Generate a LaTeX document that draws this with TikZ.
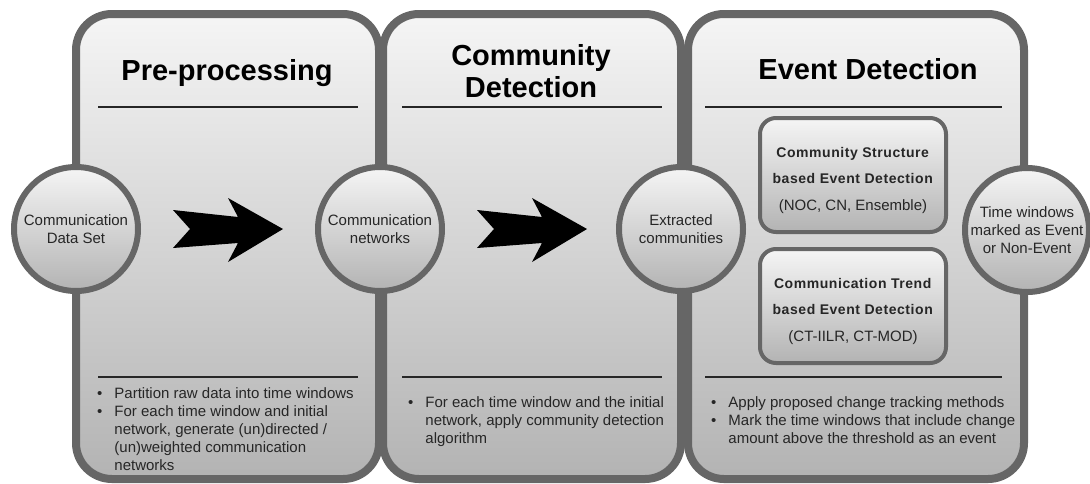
\documentclass[tikz,border=0pt]{standalone}
\usepackage{fontspec}
\setmainfont{Liberation Sans}
\usetikzlibrary{positioning}
\definecolor{edge}{HTML}{666666}
\definecolor{lite}{HTML}{F5F5F5}
\definecolor{dark}{HTML}{B3B3B3}

\begin{document}
\begin{tikzpicture}[x=1pt,y=-1pt,
    panel/.style={draw=edge,line width=8pt,rounded corners=36pt,top color=lite,bottom color=dark,inner sep=0pt},
    stage/.style={draw=edge,line width=6pt,circle,top color=lite,bottom color=dark,minimum size=124pt,inner sep=0pt,
      align=center,font=\fontsize{15}{18}\selectfont,text=black!85},
    method/.style={draw=edge,line width=4pt,rounded corners=16pt,top color=lite,bottom color=dark,
      minimum width=186pt,minimum height=114pt},
    methodtext/.style={align=center,inner sep=0pt,font=\fontsize{14}{26.5}\selectfont,text=black!85},
    title/.style={font=\fontsize{29}{32}\selectfont\bfseries,align=center,anchor=base},
    rule/.style={line width=2pt,black!85},
    bullets/.style={anchor=base west,inner sep=0pt,font=\fontsize{15}{18}\selectfont,text=black!85}]
  \useasboundingbox (0,0) rectangle (1090,483);
  % the three phases
  \foreach \name/\xl/\xr in {pre/76/379,cd/383/681,ed/688/1024}
    \node[panel,minimum width={\xr-\xl},minimum height=465pt] (\name) at ({(\xl+\xr)/2},246.5) {};
  \foreach \a/\b in {98/358,402/662,705/1002}
    \foreach \y in {107,377}
      \draw[rule] (\a,\y) -- (\b,\y);
  \node[title] (pretitle) at (227,80) {Pre-processing};
  \node[title] (cdtitle) at (531,97) {Community\\Detection};
  \node[title] (edtitle) at (868,79) {Event Detection};
  % big arrows
  \foreach \dx in {0,304}
    \fill[shift={(\dx,0)}] (173,210) -- (238,217) -- (228,198) -- (283,229) -- (228,262)
      -- (238,243) -- (173,248) -- (190,229) -- cycle;
  % data between phases
  \foreach \name/\pos/\txt in {{data/(76,229)/{Communication\\Data Set}},{net/(380,229)/{Communication\\networks}},
      {comm/(681,229)/{Extracted\\communities}},{event/(1027,230)/{Time windows\\marked as Event\\or Non-Event}}}
    \node[stage] (\name) at \pos {\txt};
  % detection methods
  \node[method] (cs) at (853,175) {};
  \node[methodtext] (cstext) at ([yshift=-5pt]cs.center) {\textbf{\addfontfeature{LetterSpace=4}Community Structure}\\
    \textbf{\addfontfeature{LetterSpace=4}based Event Detection}\\{\fontsize{15}{26.5}\selectfont(NOC, CN, Ensemble)}};
  \node[method] (ct) at (853,306) {};
  \node[methodtext] (cttext) at ([yshift=-5pt]ct.center) {\textbf{\addfontfeature{LetterSpace=4}Communication Trend}\\
    \textbf{\addfontfeature{LetterSpace=4}based Event Detection}\\{\fontsize{15}{26.5}\selectfont(CT-IILR, CT-MOD)}};
  % bullet lists
  \node[bullets] (prelist) at (97,398) {\begin{tabular}[t]{@{}l@{\hspace{12pt}}l@{}}
    \textbullet & Partition raw data into time windows\\
    \textbullet & For each time window and initial\\
    & network, generate (un)directed /\\
    & (un)weighted communication\\
    & networks\end{tabular}};
  \node[bullets] (cdlist) at (408,407) {\begin{tabular}[t]{@{}l@{\hspace{12pt}}l@{}}
    \textbullet & For each time window and the initial\\
    & network, apply community detection\\
    & algorithm\end{tabular}};
  \node[bullets] (edlist) at (711,407) {\begin{tabular}[t]{@{}l@{\hspace{12pt}}l@{}}
    \textbullet & Apply proposed change tracking methods\\
    \textbullet & Mark the time windows that include change\\
    & amount above the threshold as an event\end{tabular}};
\end{tikzpicture}
\end{document}
